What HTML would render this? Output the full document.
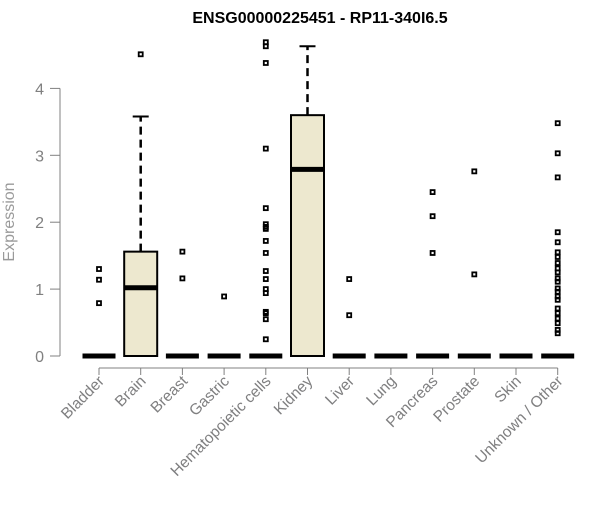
<!DOCTYPE html>
<html><head><meta charset="utf-8"><style>
body{margin:0;background:#fff;}
svg text{font-family:"Liberation Sans",Arial,sans-serif;}
</style></head><body>
<svg id="chart" width="600" height="500" xmlns="http://www.w3.org/2000/svg">
<text x="320" y="23" text-anchor="middle" font-size="16" font-weight="bold">ENSG00000225451 - RP11-340I6.5</text>
<text transform="translate(14,222) rotate(-90)" text-anchor="middle" font-size="16" fill="#9a9a9a">Expression</text>
<g id="axes"></g><g id="marks"></g>
</svg>
<script>
const categories=["Bladder","Brain","Breast","Gastric","Hematopoietic cells","Kidney","Liver","Lung","Pancreas","Prostate","Skin","Unknown / Other"];
const q1=[0,0,0,0,0,0,0,0,0,0,0,0];
const medians=[0,1.02,0,0,0,2.79,0,0,0,0,0,0];
const q3=[0,1.56,0,0,0,3.6,0,0,0,0,0,0];
const whiskerHigh=[0,3.58,0,0,0,4.63,0,0,0,0,0,0];
const outliers=[[1.3,1.14,0.79],[4.51],[1.56,1.16],[0.89],
[4.69,4.63,4.38,3.10,2.21,1.97,1.93,1.90,1.72,1.54,1.27,1.15,1.00,0.94,0.66,0.64,0.55,0.25],
[],[1.15,0.61],[],[2.45,2.09,1.54],[2.76,1.22],[],
[3.48,3.03,2.67,1.85,1.70,1.55,1.48,1.39,1.31,1.25,1.16,1.11,1.01,0.96,0.89,0.84,0.71,0.64,0.56,0.49,0.39,0.34]];
const yTicks=[0,1,2,3,4];
const NS="http://www.w3.org/2000/svg";
const x=i=>99+i*41.7;
const y=v=>356-v*66.9;
function mk(t,a,p){const e=document.createElementNS(NS,t);for(const k in a)e.setAttribute(k,a[k]);p.appendChild(e);return e;}
const axes=document.getElementById('axes'),marks=document.getElementById('marks');
const ya=mk('line',{x1:60,x2:60,y1:y(4),y2:y(0),stroke:'#808080'},axes);


yTicks.forEach(t=>{
 const l=mk('line',{x1:50,x2:60,y1:y(t),y2:y(t),stroke:'#808080'},axes);
 
 
 const tx=mk('text',{x:44,y:y(t)+6,'text-anchor':'end','font-size':16,fill:'#808080'},axes);
 tx.textContent=t;
 
 
});
const xa=mk('line',{x1:x(0),x2:x(categories.length-1),y1:368,y2:368,stroke:'#808080'},axes);


categories.forEach((c,i)=>{
 const cx=x(i);
 const t=mk('line',{x1:cx,x2:cx,y1:368,y2:375,stroke:'#808080'},axes);
 
 
 const lb=mk('text',{transform:`translate(${cx+6},${382}) rotate(-45)`,'text-anchor':'end','font-size':15.5,fill:'#7f7f80'},axes);
 lb.textContent=c;
 
 
 const g=mk('g',{},marks);
 
 
 const hw=16.5;
 if(q3[i]>q1[i]){
  mk('line',{x1:cx,x2:cx,y1:y(q3[i]),y2:y(whiskerHigh[i]),stroke:'#000','stroke-width':2.5,'stroke-dasharray':'8,5'},g);
  mk('line',{x1:cx-8,x2:cx+8,y1:y(whiskerHigh[i]),y2:y(whiskerHigh[i]),stroke:'#000','stroke-width':2},g);
  mk('rect',{x:cx-hw,y:y(q3[i]),width:2*hw,height:y(q1[i])-y(q3[i]),fill:'#ede8cf',stroke:'#000','stroke-width':2},g);
 }
 mk('line',{x1:cx-hw,x2:cx+hw,y1:y(medians[i]),y2:y(medians[i]),stroke:'#000','stroke-width':5},g);
 outliers[i].forEach(v=>{
  const o=mk('rect',{x:cx-2,y:y(v)-2,width:4,height:4,fill:'none',stroke:'#000','stroke-width':1.8},g);
  
  
 });
});
</script>
</body></html>
